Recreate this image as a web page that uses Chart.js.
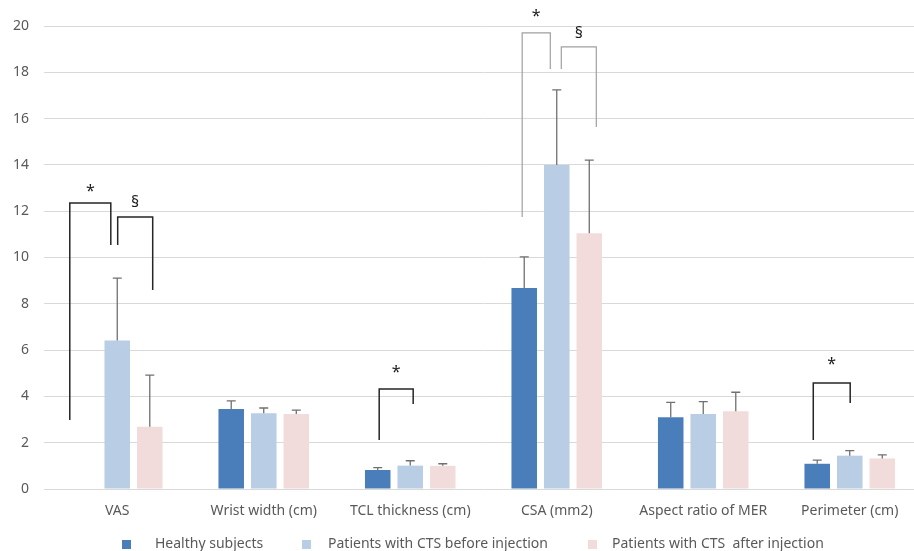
<!DOCTYPE html>
<html>
<head>
<meta charset="utf-8">
<script src="https://cdn.jsdelivr.net/npm/chart.js@4.4.0/dist/chart.umd.min.js"></script>
<style>
  html, body { margin: 0; padding: 0; background: #fff; overflow: hidden; }
  #wrap { position: relative; width: 923px; height: 551px; }
  #legend { position: absolute; top: 533px; left: 0; width: 914px; height: 20px;
            font-family: "Noto Sans", sans-serif; font-size: 14px; color: #595959; }
  #legend .item { position: absolute; top: 0; white-space: pre; line-height: 20px; }
  #legend .box { display: inline-block; width: 9px; height: 9px; vertical-align: -1px; }
</style>
</head>
<body>
<div id="wrap">
  <canvas id="chart" width="923" height="551"></canvas>
  <div id="legend"></div>
</div>
<script>
// categories and series
var categories = ["VAS", "Wrist width (cm)", "TCL thickness (cm)", "CSA (mm2)", "Aspect ratio of MER", "Perimeter (cm)"];
var seriesNames = ["Healthy subjects", "Patients with CTS before injection", "Patients with CTS  after injection"];
var healthy = [null, 3.46, 0.82, 8.68, 3.10, 1.09];
var before  = [6.42, 3.27, 1.01, 14.0, 3.24, 1.44];
var after   = [2.69, 3.24, 1.00, 11.05, 3.36, 1.32];
// top of the error bars (mean + SD)
var healthyTop = [null, 3.81, 0.92, 10.03, 3.74, 1.25];
var beforeTop  = [9.11, 3.50, 1.22, 17.24, 3.77, 1.66];
var afterTop   = [4.92, 3.41, 1.09, 14.21, 4.18, 1.47];
var yTicks = [0, 2, 4, 6, 8, 10, 12, 14, 16, 18, 20];

// significance brackets: category index, x offsets (in categories), y values
var brackets = [
    {cat: 0, x1: -0.324, x2: -0.044, y1: 2.98, y2: 10.54, top: 12.35, mark: "*", markY: 12.87, color: "#262626"},
    {cat: 0, x1: 0.003, x2: 0.242, y1: 10.54, y2: 8.6, top: 11.75, mark: "§", markY: 12.4, color: "#262626"},
    {cat: 2, x1: -0.212, x2: 0.02, y1: 2.12, y2: 3.67, top: 4.32, mark: "*", markY: 5.05, color: "#262626"},
    {cat: 3, x1: -0.236, x2: -0.044, y1: 11.75, y2: 18.14, top: 19.7, mark: "*", markY: 20.43, color: "#a0a0a0"},
    {cat: 3, x1: 0.031, x2: 0.27, y1: 18.14, y2: 15.64, top: 19.1, mark: "§", markY: 19.7, color: "#a0a0a0"},
    {cat: 5, x1: -0.249, x2: 0.003, y1: 2.12, y2: 3.71, top: 4.58, mark: "*", markY: 5.36, color: "#262626"}
];

var colors = ["#4a7ebb", "#b9cde5", "#f2dcdb"];
var errTops = [healthyTop, beforeTop, afterTop];

var errorBars = {
    id: "errorBars",
    afterDatasetsDraw: function(chart) {
        var ctx = chart.ctx;
        var y = chart.scales.y;
        ctx.save();
        ctx.strokeStyle = "#707070";
        ctx.lineWidth = 1.3;
        chart.data.datasets.forEach(function(ds, di) {
            var meta = chart.getDatasetMeta(di);
            meta.data.forEach(function(bar, i) {
                var top = errTops[di][i];
                if (top == null || ds.data[i] == null) return;
                var yt = y.getPixelForValue(top);
                ctx.beginPath();
                ctx.moveTo(bar.x, bar.y);
                ctx.lineTo(bar.x, yt);
                ctx.moveTo(bar.x - 4.5, yt);
                ctx.lineTo(bar.x + 4.5, yt);
                ctx.stroke();
            });
        });
        ctx.restore();
    }
};

var sigBrackets = {
    id: "sigBrackets",
    afterDraw: function(chart) {
        var ctx = chart.ctx;
        var x = chart.scales.x, y = chart.scales.y;
        ctx.save();
        brackets.forEach(function(b) {
            var xa = x.getPixelForValue(b.cat + b.x1);
            var xb = x.getPixelForValue(b.cat + b.x2);
            ctx.strokeStyle = b.color;
            ctx.lineWidth = b.color == "#262626" ? 1.5 : 1.2;
            ctx.beginPath();
            ctx.moveTo(xa, y.getPixelForValue(b.y1));
            ctx.lineTo(xa, y.getPixelForValue(b.top));
            ctx.lineTo(xb, y.getPixelForValue(b.top));
            ctx.lineTo(xb, y.getPixelForValue(b.y2));
            ctx.stroke();
            ctx.fillStyle = "#1a1a1a";
            ctx.font = "16px 'Noto Sans', sans-serif";
            ctx.textAlign = "center";
            ctx.textBaseline = "middle";
            ctx.fillText(b.mark, (xa + xb) / 2, y.getPixelForValue(b.markY));
        });
        ctx.restore();
    }
};

var ctx = document.getElementById("chart").getContext("2d");
var myChart = new Chart(ctx, {
    type: "bar",
    data: {
        labels: categories,
        datasets: [
            {label: seriesNames[0], data: healthy, backgroundColor: colors[0]},
            {label: seriesNames[1], data: before, backgroundColor: colors[1]},
            {label: seriesNames[2], data: after, backgroundColor: colors[2]}
        ]
    },
    options: {
        responsive: false,
        animation: false,
        categoryPercentage: 0.666,
        barPercentage: 0.785,
        layout: {padding: {left: 0, right: 0, top: 26, bottom: 22}},
        plugins: {legend: {display: false}, tooltip: {enabled: false}},
        scales: {
            x: {
                grid: {display: false, drawTicks: false},
                border: {display: false},
                ticks: {color: "#595959", font: {family: "Noto Sans", size: 14}, padding: 14, maxRotation: 0},
                afterFit: function(axis) { axis.height = 40; }
            },
            y: {
                min: 0, max: 20,
                afterBuildTicks: function(axis) { axis.ticks = yTicks.map(function(v) { return {value: v}; }); },
                grid: {color: "#d9d9d9", lineWidth: 1, drawTicks: false},
                border: {display: false},
                ticks: {color: "#595959", font: {family: "Noto Sans", size: 14}, padding: 15},
                afterFit: function(axis) { axis.width = 44; }
            }
        }
    },
    plugins: [errorBars, sigBrackets]
});

// legend
var legendPos = [122, 302, 588];
var legendGap = [24, 17, 15];
var leg = document.getElementById("legend");
seriesNames.forEach(function(name, i) {
    var it = document.createElement("span");
    it.className = "item";
    it.style.left = legendPos[i] + "px";
    var box = document.createElement("span");
    box.className = "box";
    box.style.background = colors[i];
    box.style.marginRight = legendGap[i] + "px";
    it.appendChild(box);
    it.appendChild(document.createTextNode(name));
    leg.appendChild(it);
});
</script>
</body>
</html>
